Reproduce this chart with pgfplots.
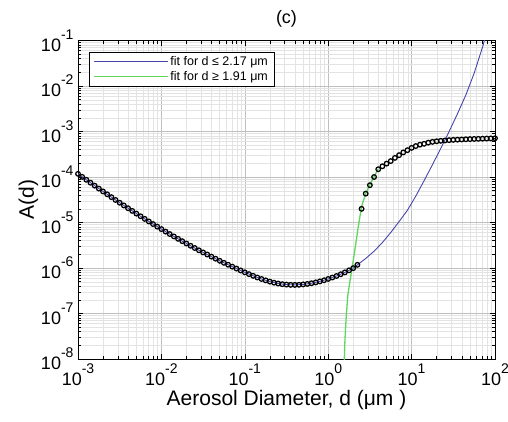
\documentclass[border=0pt]{standalone}
\usepackage{pgfplots}
\usepackage{pgfplotstable}
\pgfplotsset{compat=1.18}
\usepackage{fontspec}
\setmainfont{Liberation Sans}
\definecolor{fitblue}{RGB}{70,70,170}
\definecolor{fitgreen}{RGB}{95,215,95}
\newcommand{\tl}[1]{10\raisebox{12pt}{\fontsize{14}{14}\selectfont #1}}

\pgfplotstableread{
d A
1.000e-3 1.175e-4
1.122e-3 1.009e-4
1.259e-3 8.69e-5
1.413e-3 7.48e-5
1.585e-3 6.46e-5
1.778e-3 5.57e-5
1.995e-3 4.82e-5
2.239e-3 4.17e-5
2.512e-3 3.61e-5
2.818e-3 3.13e-5
3.162e-3 2.72e-5
3.548e-3 2.37e-5
3.981e-3 2.06e-5
4.467e-3 1.80e-5
5.012e-3 1.57e-5
5.623e-3 1.374e-5
6.310e-3 1.202e-5
7.079e-3 1.054e-5
7.943e-3 9.25e-6
8.913e-3 8.13e-6
1.000e-2 7.16e-6
1.122e-2 6.31e-6
1.259e-2 5.58e-6
1.413e-2 4.94e-6
1.585e-2 4.38e-6
1.778e-2 3.89e-6
1.995e-2 3.46e-6
2.239e-2 3.08e-6
2.512e-2 2.75e-6
2.818e-2 2.45e-6
3.162e-2 2.20e-6
3.548e-2 1.98e-6
3.981e-2 1.78e-6
4.467e-2 1.60e-6
5.012e-2 1.44e-6
5.623e-2 1.30e-6
6.310e-2 1.18e-6
7.079e-2 1.07e-6
7.943e-2 9.73e-7
8.913e-2 8.83e-7
0.1000 8.04e-7
0.1122 7.33e-7
0.1259 6.73e-7
0.1413 6.19e-7
0.1585 5.74e-7
0.1778 5.35e-7
0.1995 5.02e-7
0.2239 4.75e-7
0.2512 4.56e-7
0.2818 4.41e-7
0.3162 4.32e-7
0.3548 4.26e-7
0.3981 4.25e-7
0.4467 4.28e-7
0.5012 4.36e-7
0.5623 4.47e-7
0.6310 4.63e-7
0.7079 4.83e-7
0.7943 5.08e-7
0.8913 5.38e-7
1.000 5.75e-7
1.122 6.18e-7
1.259 6.68e-7
1.413 7.29e-7
1.585 8.02e-7
1.778 8.89e-7
1.995 9.93e-7
2.239 1.175e-6
2.512 2.0e-5
2.818 4.31e-5
3.162 6.61e-5
3.548 1.0e-4
3.981 1.48e-4
4.467 1.72e-4
5.012 1.97e-4
5.623 2.24e-4
6.310 2.63e-4
7.079 3.02e-4
7.943 3.47e-4
8.913 3.89e-4
10.00 4.37e-4
11.22 4.79e-4
12.59 5.13e-4
14.13 5.37e-4
15.85 5.69e-4
17.78 5.92e-4
19.95 6.10e-4
22.39 6.24e-4
25.12 6.35e-4
28.18 6.46e-4
31.62 6.55e-4
35.48 6.62e-4
39.81 6.68e-4
44.67 6.75e-4
50.12 6.81e-4
56.23 6.86e-4
63.10 6.90e-4
70.79 6.95e-4
79.43 7.00e-4
89.13 7.05e-4
100.0 7.10e-4
}\datatable

\pgfplotstableread{
d A
1.000e-3 1.175e-4
1.259e-3 8.69e-5
1.585e-3 6.46e-5
1.995e-3 4.82e-5
2.512e-3 3.61e-5
3.162e-3 2.72e-5
3.981e-3 2.06e-5
5.012e-3 1.57e-5
6.310e-3 1.202e-5
7.943e-3 9.25e-6
1.000e-2 7.16e-6
1.259e-2 5.58e-6
1.585e-2 4.38e-6
1.995e-2 3.46e-6
2.512e-2 2.75e-6
3.162e-2 2.20e-6
3.981e-2 1.78e-6
5.012e-2 1.44e-6
6.310e-2 1.18e-6
7.943e-2 9.73e-7
0.1000 8.04e-7
0.1259 6.73e-7
0.1585 5.74e-7
0.1995 5.02e-7
0.2512 4.56e-7
0.3162 4.32e-7
0.3981 4.25e-7
0.5012 4.36e-7
0.6310 4.63e-7
0.7943 5.08e-7
1.000 5.75e-7
1.259 6.68e-7
1.585 8.02e-7
1.995 9.93e-7
2.239 1.175e-6
2.512 1.38e-6
2.818 1.62e-6
3.548 2.34e-6
4.467 3.63e-6
5.623 6.03e-6
7.079 1.047e-5
8.913 1.86e-5
11.22 3.80e-5
14.13 8.32e-5
17.78 1.86e-4
22.39 4.27e-4
28.18 1.0e-3
35.48 2.45e-3
44.67 6.31e-3
56.23 1.91e-2
70.79 7.08e-2
89.13 0.316
}\bluetable

\pgfplotstableread{
d A
1.553 4.0e-9
1.560 1.0e-8
1.574 1.58e-8
1.589 2.69e-8
1.641 7.94e-8
1.718 2.51e-7
1.820 5.01e-7
1.919 9.12e-7
2.089 2.51e-6
2.291 7.94e-6
2.512 2.24e-5
2.818 4.37e-5
3.162 6.76e-5
3.548 1.02e-4
3.981 1.51e-4
}\greentable

\begin{document}
\begin{tikzpicture}
\begin{axis}[
  name=ax,
  scale only axis,
  width=417pt, height=318.5pt,
  xmode=log, ymode=log,
  xmin=1e-3, xmax=1e2, ymin=1e-8, ymax=1e-1,
  xtick={1e-3,1e-2,1e-1,1,1e1,1e2},
  xticklabels={\tl{-3},\tl{-2},\tl{-1},\tl{0},\tl{1},\tl{2}},
  ytick={1e-8,1e-7,1e-6,1e-5,1e-4,1e-3,1e-2,1e-1},
  yticklabels={\tl{-8},\tl{-7},\tl{-6},\tl{-5},\tl{-4},\tl{-3},\tl{-2},\tl{-1}},
  ticklabel style={font=\fontsize{18}{18}\selectfont},
  xticklabel style={yshift=-1pt},
  yticklabel style={xshift=-1pt},
  grid=both,
  major grid style={gray!50, line width=0.5pt},
  minor grid style={gray!22, line width=0.4pt},
  tick style={black, line width=0.5pt},
  major tick length=5pt, minor tick length=3pt,
  axis line style={black, line width=0.8pt},
  title={(c)},
  title style={font=\fontsize{18}{18}\selectfont, yshift=4pt},
  xlabel={Aerosol Diameter, d (μm )},
  ylabel={A(d)},
  label style={font=\fontsize{21}{21}\selectfont},
  xlabel style={yshift=2pt},
  ylabel style={yshift=-4pt},
  legend style={at={(0.026,0.965)}, anchor=north west, draw=black,
    line width=0.6pt, font=\fontsize{12.5}{15}\selectfont,
    inner xsep=4pt, inner ysep=2pt, row sep=1pt},
  legend cell align=left,
  legend image code/.code={\path (0pt,0pt) -- (74pt,0pt); \draw[#1] (8pt,0pt) -- (74pt,0pt);},
]
\addplot[fitblue, line width=0.9pt, no marks] table[x=d, y=A] {\bluetable};
\addlegendentry{fit for d ≤ 2.17 μm}
\addplot[fitgreen, line width=1.3pt, no marks] table[x=d, y=A] {\greentable};
\addlegendentry{fit for d ≥ 1.91 μm}
\addplot[only marks, mark=o, mark size=2.3pt, black, line width=1.25pt, forget plot] table[x=d, y=A] {\datatable};
\end{axis}
\pgfresetboundingbox
\path ([xshift=-78pt, yshift=-62pt]ax.south west) rectangle ([xshift=13pt, yshift=40.5pt]ax.north east);
\end{tikzpicture}
\end{document}
